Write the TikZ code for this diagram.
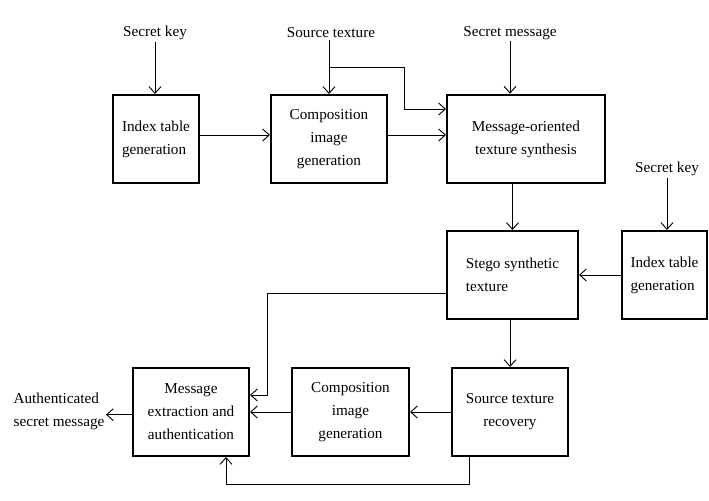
\documentclass[tikz,border=0pt]{standalone}
\usepackage{fontspec}
\setmainfont{Liberation Serif}
\usetikzlibrary{arrows.meta}

\begin{document}
\begin{tikzpicture}[x=0.75pt,y=-0.75pt,
  block/.style={draw, line width=1.5pt, inner sep=2pt, align=center,
    font=\fontsize{11.4}{17.2}\selectfont},
  lbl/.style={inner sep=1pt, font=\fontsize{11.4}{17.2}\selectfont},
  flow/.style={line width=0.7pt, -{Straight Barb[length=5pt,width=9pt]}}]

\useasboundingbox (0,0) rectangle (709,500);

% Embedding side
\node[block, minimum width=64.5pt, minimum height=66pt, align=left] (idxA) at (156,139) {Index table\\generation};
\node[block, minimum width=87pt, minimum height=66pt] (compA) at (329,139) {Composition\\image\\generation};
\node[block, minimum width=118.5pt, minimum height=66.5pt] (synth) at (526,139) {Message-oriented\\texture synthesis};
\node[block, minimum width=98.25pt, minimum height=66pt, align=left] (stego) at (512.5,275) {Stego synthetic\\texture};
\node[block, minimum width=64pt, minimum height=66pt, align=left] (idxB) at (664.5,275) {Index table\\generation};

% Extraction side
\node[block, minimum width=87pt, minimum height=66pt] (extract) at (191,412) {Message\\extraction and\\authentication};
\node[block, minimum width=87.75pt, minimum height=66pt] (compB) at (350.5,412) {Composition\\image\\generation};
\node[block, minimum width=87pt, minimum height=66pt] (recover) at (510,412) {Source texture\\recovery};

% Inputs and output
\node[lbl] (keyA) at (155,33) {Secret key};
\node[lbl] (src) at (331,33) {Source texture};
\node[lbl] (msg) at (510,33) {Secret message};
\node[lbl] (keyB) at (667,169) {Secret key};
\node[lbl, align=left, anchor=east] (out) at (106,411) {Authenticated\\secret message};

\coordinate (fork) at (329,67);
\coordinate (bend) at (404,109);
\coordinate (tap) at (267,395);

\draw[flow] (keyA) -- (keyA |- idxA.north);
\draw[flow] (src.south -| compA.north) -- (compA.north);
\draw[flow] (fork) -| (bend) -- (bend -| synth.west);
\draw[flow] (msg) -- (msg |- synth.north);
\draw[flow] ([yshift=3pt]idxA.east) -- ([yshift=3pt]compA.west);
\draw[flow] ([yshift=3pt]compA.east) -- ([yshift=3pt]compA.east -| synth.west);
\draw[flow] (stego.north |- synth.south) -- (stego.north);
\draw[flow] (keyB) -- (keyB |- idxB.north);
\draw[flow] (idxB.west) -- (stego.east);
\draw[flow] ([yshift=-13.5pt]stego.west) -| (tap) -- (tap -| extract.east);
\draw[flow] (recover.north |- stego.south) -- (recover.north);
\draw[flow] (recover.west) -- (compB.east);
\draw[flow] (compB.west) -- (extract.east);
\draw[flow] ([yshift=-2pt]extract.west) -- ([yshift=-2pt]extract.west -| out.east);
\draw[flow] ([xshift=-30.75pt]recover.south) -- ++(0,27) -| ([xshift=26.25pt]extract.south);

\end{tikzpicture}
\end{document}
